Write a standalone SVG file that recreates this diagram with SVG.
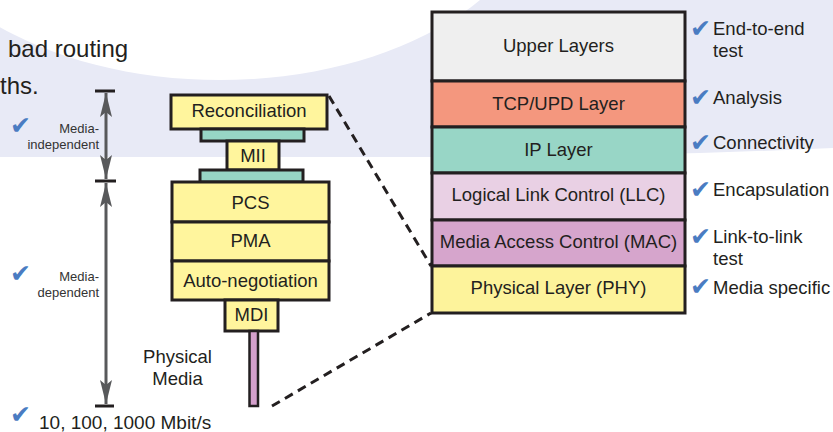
<svg xmlns="http://www.w3.org/2000/svg" width="833" height="432" viewBox="0 0 833 432">
<style>
.t{font-family:"Liberation Sans",Arial,sans-serif;fill:#231f20}
.lbl{font-size:18.5px;text-anchor:middle}
.side{font-size:18.5px}
.sm{font-size:13px;text-anchor:end;fill:#333}
.ck{font-family:"DejaVu Sans",sans-serif;font-size:25px;fill:#4a7cc2}
.box{stroke:#231f20;stroke-width:3}
.y{fill:#fff59d}
.tl{fill:#97d5c5}
.dash{fill:none;stroke:#231f20;stroke-width:3;stroke-dasharray:9 6}
.bar{stroke:#231f20;stroke-width:3}
</style>
<defs>
<marker id="ah" viewBox="0 0 24 12" refX="24" refY="6" markerWidth="24" markerHeight="12" markerUnits="userSpaceOnUse" orient="auto">
<path d="M0,0 L24,6 L0,12 L5,6 Z" fill="#58595b"/>
</marker>
</defs>
<g id="background">
<rect width="833" height="432" fill="#ffffff"/>
<path d="M0,0 H833 V148 C700,154 560,157 430,157 H0 Z" fill="#e8eaf6"/>
<ellipse cx="220" cy="-120" rx="325" ry="200" fill="#ffffff"/>
</g>
<g id="heading">
<text class="t" x="8" y="57" font-size="24">bad routing</text>
<text class="t" x="0" y="94" font-size="24">ths.</text>
</g>
<g id="left-bullets">
<text class="ck" x="10" y="134">✔</text>
<text class="ck" x="10" y="282">✔</text>
<text class="ck" x="10" y="423">✔</text>
<text class="t" x="39" y="429" font-size="19">10, 100, 1000 Mbit/s</text>
</g>
<g id="dimension">
<line class="bar" x1="95" y1="91" x2="115" y2="91"/>
<line class="bar" x1="95" y1="181" x2="116" y2="181"/>
<line class="bar" x1="95" y1="406" x2="114" y2="406"/>
<line x1="106" y1="135" x2="106" y2="93" stroke="#58595b" stroke-width="3" marker-end="url(#ah)"/>
<line x1="106" y1="135" x2="106" y2="179" stroke="#58595b" stroke-width="3" marker-end="url(#ah)"/>
<line x1="106" y1="290" x2="106" y2="183" stroke="#58595b" stroke-width="3" marker-end="url(#ah)"/>
<line x1="106" y1="290" x2="106" y2="404" stroke="#58595b" stroke-width="3" marker-end="url(#ah)"/>
<text class="t sm" x="99" y="133">Media-</text>
<text class="t sm" x="99" y="149">independent</text>
<text class="t sm" x="99" y="281">Media-</text>
<text class="t sm" x="99" y="297">dependent</text>
</g>
<g id="connectors">
<path class="dash" d="M329,96 L431,266"/>
<path class="dash" d="M272,406 L431,313"/>
</g>
<g id="reconciliation"><rect class="box y" x="171" y="95" width="156" height="34"/><text class="t lbl" x="249" y="117">Reconciliation</text></g>
<g id="mii-top"><rect class="box tl" x="201" y="129" width="103" height="12"/></g>
<g id="mii"><rect class="box y" x="227" y="141" width="52" height="29"/><text class="t lbl" x="253" y="162">MII</text></g>
<g id="mii-bottom"><rect class="box tl" x="200" y="170" width="103" height="12"/></g>
<g id="pcs"><rect class="box y" x="172" y="182" width="157" height="40"/><text class="t lbl" x="250.5" y="208.5">PCS</text></g>
<g id="pma"><rect class="box y" x="172" y="222" width="157" height="39"/><text class="t lbl" x="250.5" y="247">PMA</text></g>
<g id="autoneg"><rect class="box y" x="172" y="261" width="157" height="39"/><text class="t lbl" x="250.5" y="286.5">Auto-negotiation</text></g>
<g id="mdi"><rect class="box y" x="225" y="300" width="53" height="31"/><text class="t lbl" x="251.5" y="321">MDI</text></g>
<g id="physical-media"><rect x="249.5" y="331" width="8.5" height="75" fill="#d4a0cc" stroke="#231f20" stroke-width="2.5"/><text class="t lbl" x="177.5" y="363">Physical</text><text class="t lbl" x="177.5" y="384.5">Media</text></g>
<g id="upper"><rect class="box" fill="#efefef" x="432" y="12" width="253" height="69"/><text class="t lbl" x="558.5" y="52">Upper Layers</text></g>
<g id="tcp"><rect class="box" fill="#f4977e" x="432" y="81" width="253" height="46"/><text class="t lbl" x="558.5" y="109.5">TCP/UPD Layer</text></g>
<g id="ip"><rect class="box" fill="#98d6c6" x="432" y="127" width="253" height="46"/><text class="t lbl" x="558.5" y="155.5">IP Layer</text></g>
<g id="llc"><rect class="box" fill="#e9d0e4" x="432" y="173" width="253" height="47"/><text class="t lbl" x="558.5" y="201">Logical Link Control (LLC)</text></g>
<g id="mac"><rect class="box" fill="#d6a5cc" x="432" y="220" width="253" height="46"/><text class="t lbl" x="558.5" y="247.5">Media Access Control (MAC)</text></g>
<g id="phy"><rect class="box" fill="#fdf39b" x="432" y="266" width="253" height="47"/><text class="t lbl" x="558.5" y="293.5">Physical Layer (PHY)</text></g>
<g id="right-labels">
<text class="ck" x="690" y="37">✔</text><text class="t side" x="713" y="35">End-to-end</text><text class="t side" x="713" y="57">test</text>
<text class="ck" x="690" y="106">✔</text><text class="t side" x="713" y="104">Analysis</text>
<text class="ck" x="690" y="151">✔</text><text class="t side" x="713" y="149">Connectivity</text>
<text class="ck" x="690" y="198">✔</text><text class="t side" x="713" y="196">Encapsulation</text>
<text class="ck" x="690" y="245">✔</text><text class="t side" x="713" y="243">Link-to-link</text><text class="t side" x="713" y="265">test</text>
<text class="ck" x="690" y="295">✔</text><text class="t side" x="713" y="293.5">Media specific</text>
</g>
</svg>
